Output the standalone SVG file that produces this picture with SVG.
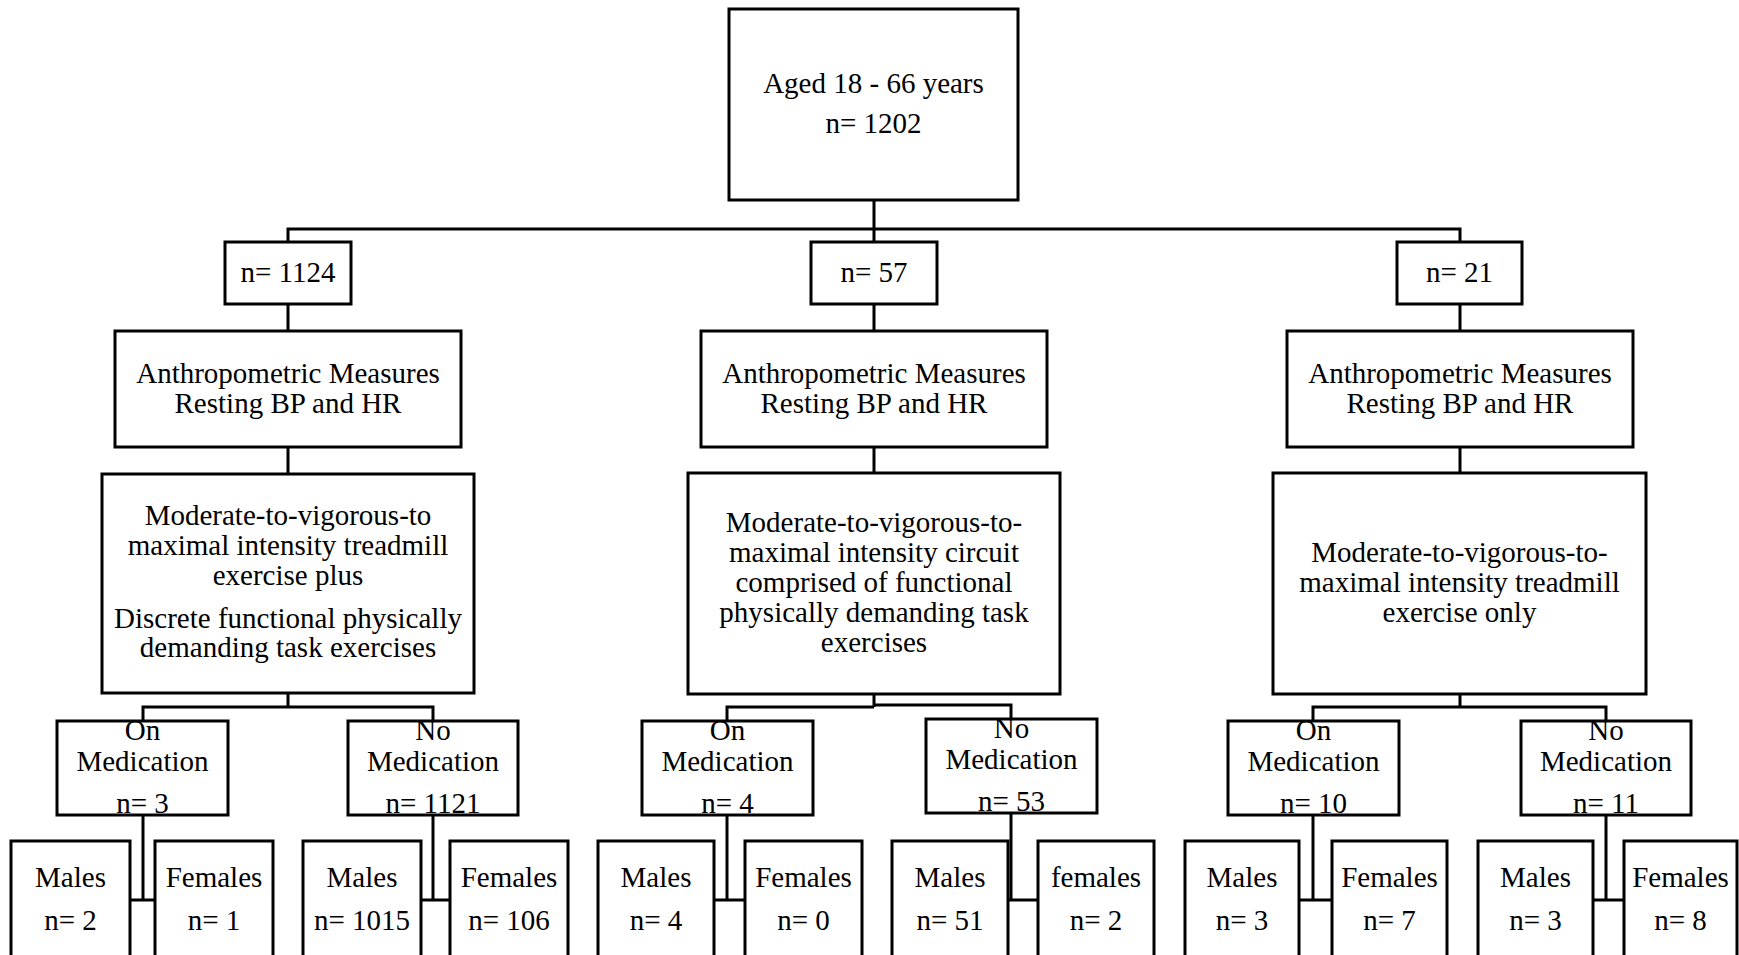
<svg xmlns="http://www.w3.org/2000/svg" width="1739" height="955" viewBox="0 0 1739 955">
<style>
.b{fill:#fff;stroke:#000;stroke-width:3}
.c{fill:none;stroke:#000;stroke-width:3}
text{font-family:"Liberation Serif","Times New Roman",serif;font-size:29px;fill:#000;text-anchor:middle}
</style>
<rect width="1739" height="955" fill="#fff"/>
<g id="connectors" class="c">
<path d="M874 200V242M288 242V229H1460V242"/>
<path d="M288 304V331M288 447V474M874 304V331M874 447V473M1460 304V331M1460 447V473"/>
<path d="M288 693V707M143 721V707H433V721"/>
<path d="M874 694V707M727 721V707H874M874 705H1011V719"/>
<path d="M1460 694V707M1313 721V707H1606V721"/>
<path d="M143 815V900M130 900H155M433 815V900M421 900H450"/>
<path d="M727 815V900M714 900H745M1011 813V900M1008 900H1038"/>
<path d="M1313 815V900M1299 900H1332M1606 815V900M1593 900H1624"/>
</g>
<g id="root"><rect class="b" x="729" y="9" width="289" height="191"/><text x="873.5" y="93">Aged 18 - 66 years</text><text x="873.5" y="133">n= 1202</text></g>
<g id="n1124"><rect class="b" x="225" y="242" width="126" height="62"/><text x="288" y="282">n= 1124</text></g>
<g id="n57"><rect class="b" x="811" y="242" width="126" height="62"/><text x="874" y="282">n= 57</text></g>
<g id="n21"><rect class="b" x="1397" y="242" width="125" height="62"/><text x="1459.5" y="282">n= 21</text></g>
<g id="anthro1"><rect class="b" x="115" y="331" width="346" height="116"/><text x="288" y="383">Anthropometric Measures</text><text x="288" y="413">Resting BP and HR</text></g>
<g id="anthro2"><rect class="b" x="701" y="331" width="346" height="116"/><text x="874" y="383">Anthropometric Measures</text><text x="874" y="413">Resting BP and HR</text></g>
<g id="anthro3"><rect class="b" x="1287" y="331" width="346" height="116"/><text x="1460" y="383">Anthropometric Measures</text><text x="1460" y="413">Resting BP and HR</text></g>
<g id="ex1"><rect class="b" x="102" y="474" width="372" height="219"/><text x="288" y="525">Moderate-to-vigorous-to</text><text x="288" y="555">maximal intensity treadmill</text><text x="288" y="585">exercise plus</text><text x="288" y="628">Discrete functional physically</text><text x="288" y="657">demanding task exercises</text></g>
<g id="ex2"><rect class="b" x="688" y="473" width="372" height="221"/><text x="874" y="532">Moderate-to-vigorous-to-</text><text x="874" y="562">maximal intensity circuit</text><text x="874" y="592">comprised of functional</text><text x="874" y="622">physically demanding task</text><text x="874" y="652">exercises</text></g>
<g id="ex3"><rect class="b" x="1273" y="473" width="373" height="221"/><text x="1459.5" y="562">Moderate-to-vigorous-to-</text><text x="1459.5" y="592">maximal intensity treadmill</text><text x="1459.5" y="622">exercise only</text></g>
<g id="on1"><rect class="b" x="57" y="721" width="171" height="94"/><text x="142.5" y="740">On</text><text x="142.5" y="771">Medication</text><text x="142.5" y="813">n= 3</text></g>
<g id="no1"><rect class="b" x="348" y="721" width="170" height="94"/><text x="433" y="740">No</text><text x="433" y="771">Medication</text><text x="433" y="813">n= 1121</text></g>
<g id="on2"><rect class="b" x="642" y="721" width="171" height="94"/><text x="727.5" y="740">On</text><text x="727.5" y="771">Medication</text><text x="727.5" y="813">n= 4</text></g>
<g id="no2"><rect class="b" x="926" y="719" width="171" height="94"/><text x="1011.5" y="738">No</text><text x="1011.5" y="769">Medication</text><text x="1011.5" y="811">n= 53</text></g>
<g id="on3"><rect class="b" x="1228" y="721" width="171" height="94"/><text x="1313.5" y="740">On</text><text x="1313.5" y="771">Medication</text><text x="1313.5" y="813">n= 10</text></g>
<g id="no3"><rect class="b" x="1521" y="721" width="170" height="94"/><text x="1606" y="740">No</text><text x="1606" y="771">Medication</text><text x="1606" y="813">n= 11</text></g>
<g id="m1"><rect class="b" x="11" y="841" width="119" height="125"/><text x="70.5" y="887">Males</text><text x="70.5" y="930">n= 2</text></g>
<g id="f1"><rect class="b" x="155" y="841" width="118" height="125"/><text x="214" y="887">Females</text><text x="214" y="930">n= 1</text></g>
<g id="m2"><rect class="b" x="303" y="841" width="118" height="125"/><text x="362" y="887">Males</text><text x="362" y="930">n= 1015</text></g>
<g id="f2"><rect class="b" x="450" y="841" width="118" height="125"/><text x="509" y="887">Females</text><text x="509" y="930">n= 106</text></g>
<g id="m3"><rect class="b" x="598" y="841" width="116" height="125"/><text x="656" y="887">Males</text><text x="656" y="930">n= 4</text></g>
<g id="f3"><rect class="b" x="745" y="841" width="117" height="125"/><text x="803.5" y="887">Females</text><text x="803.5" y="930">n= 0</text></g>
<g id="m4"><rect class="b" x="892" y="841" width="116" height="125"/><text x="950" y="887">Males</text><text x="950" y="930">n= 51</text></g>
<g id="f4"><rect class="b" x="1038" y="841" width="116" height="125"/><text x="1096" y="887">females</text><text x="1096" y="930">n= 2</text></g>
<g id="m5"><rect class="b" x="1185" y="841" width="114" height="125"/><text x="1242" y="887">Males</text><text x="1242" y="930">n= 3</text></g>
<g id="f5"><rect class="b" x="1332" y="841" width="115" height="125"/><text x="1389.5" y="887">Females</text><text x="1389.5" y="930">n= 7</text></g>
<g id="m6"><rect class="b" x="1478" y="841" width="115" height="125"/><text x="1535.5" y="887">Males</text><text x="1535.5" y="930">n= 3</text></g>
<g id="f6"><rect class="b" x="1624" y="841" width="113" height="125"/><text x="1680.5" y="887">Females</text><text x="1680.5" y="930">n= 8</text></g>
</svg>
